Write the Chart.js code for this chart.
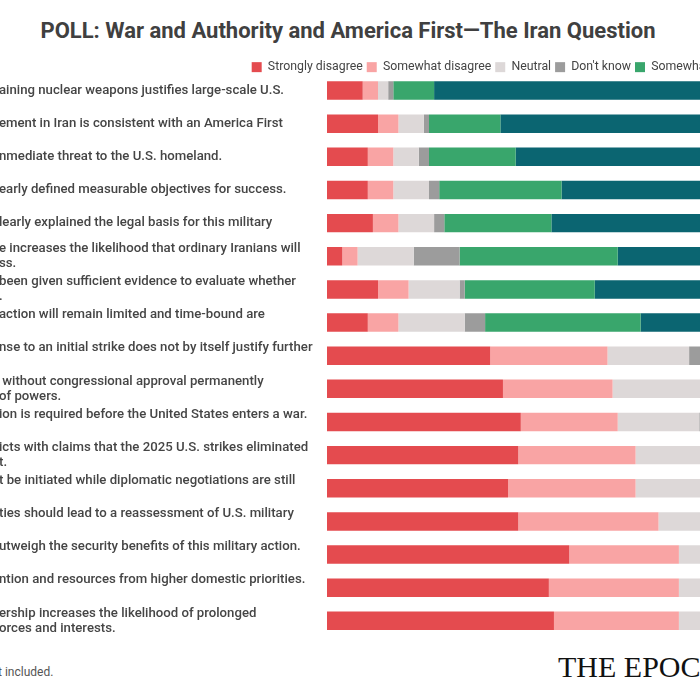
<!DOCTYPE html>
<html lang="en">
<head>
    <meta charset="UTF-8">
    <title>POLL: War and Authority and America First—The Iran Question</title>
    <style>
        html, body { margin: 0; padding: 0; background: #fff; overflow: hidden; }
        body { width: 700px; height: 700px; position: relative; font-family: Roboto, sans-serif; }
        h1 { position: absolute; top: 18px; left: 0; width: 696px; margin: 0; text-align: center;
             font: 700 22px/26px Roboto, sans-serif; color: #404040; white-space: nowrap; }
        #chart-wrap { position: absolute; left: -1px; top: 0; width: 842px; height: 645px; }
        .note { position: absolute; left: -2px; top: 665px; font: 400 12px/14px Roboto, sans-serif; color: #555; }
        .logo { position: absolute; left: 558px; top: 652px; font: 400 30px/30px "Liberation Serif", serif;
                color: #111; white-space: nowrap; }
    </style>
</head>
<body>
    <h1>POLL: War and Authority and America First—The Iran Question</h1>
    <div id="chart-wrap"><canvas id="poll-chart"></canvas></div>
    <div class="note">t included.</div>
    <div class="logo">THE EPOCH TIMES</div>

    <script src="https://cdn.jsdelivr.net/npm/chart.js"></script>
    <script>
        // statements (only the part that shows in the frame)
        const statements = [
            'aining nuclear weapons justifies large-scale U.S.',
            'ement in Iran is consistent with an America First',
            'nmediate threat to the U.S. homeland.',
            'early defined measurable objectives for success.',
            'learly explained the legal basis for this military',
            ['e increases the likelihood that ordinary Iranians will', 'ss.'],
            ['been given sufficient evidence to evaluate whether', '.'],
            ['action will remain limited and time-bound are', ''],
            ['nse to an initial strike does not by itself justify further', ''],
            [' without congressional approval permanently', 'of powers.'],
            ['ion is required before the United States enters a war.', ''],
            ['icts with claims that the 2025 U.S. strikes eliminated', 't.'],
            ['t be initiated while diplomatic negotiations are still', ''],
            ['ties should lead to a reassessment of U.S. military', ''],
            ['utweigh the security benefits of this military action.', ''],
            ['ntion and resources from higher domestic priorities.', ''],
            ['ership increases the likelihood of prolonged', 'orces and interests.']
        ];

        // percent of respondents
        const stronglyDisagree = [7, 10, 8, 8, 9, 3, 10, 8, 32, 34.5, 38, 37.5, 35.5, 37.5, 47.5, 43.5, 44.5];
        const somewhatDisagree = [3, 4, 5, 5, 5, 3, 6, 6, 23, 21.5, 19, 23, 25, 27.5, 21.5, 25.5, 24.5];
        const neutral          = [2, 5, 5, 7, 7, 11, 10, 13, 16, 18, 16, 15, 17, 14, 12, 13, 13];
        const dontKnow         = [1, 1, 2, 2, 2, 9, 1, 4, 3, 3, 2, 4, 3, 3, 3, 3, 3];
        const somewhatAgree    = [8, 14, 17, 24, 21, 31, 25.5, 30.5, 15, 14, 15, 12, 12, 11, 9, 9, 9];
        const stronglyAgree    = [79, 66, 63, 54, 56, 43, 47.5, 38.5, 11, 9, 10, 8.5, 7.5, 7, 7, 6, 6];

        const series = [
            { label: 'Strongly disagree', data: stronglyDisagree, color: '#e44b4f' },
            { label: 'Somewhat disagree', data: somewhatDisagree, color: '#f9a4a4' },
            { label: 'Neutral',           data: neutral,          color: '#ddd8d8' },
            { label: "Don't know",        data: dontKnow,         color: '#9c9c9c' },
            { label: 'Somewhat agree',    data: somewhatAgree,    color: '#39a66c' },
            { label: 'Strongly agree',    data: stronglyAgree,    color: '#0b6571' }
        ];

        // the legend runs on past the right end of the bars
        const legendShift = {
            id: 'legendShift',
            afterLayout(chart) {
                chart.legend.left += 9;
                chart.legend.right += 9;
            }
        };

        const config = {
            type: 'bar',
            data: {
                labels: statements,
                datasets: series.map(s => ({
                    label: s.label,
                    data: s.data,
                    backgroundColor: s.color,
                    borderWidth: 0,
                    categoryPercentage: 1,
                    barPercentage: 0.557
                }))
            },
            options: {
                indexAxis: 'y',
                animation: false,
                responsive: true,
                maintainAspectRatio: false,
                layout: { padding: { top: 57, right: 4, bottom: 5, left: 0 } },
                scales: {
                    x: { stacked: true, min: 0, max: 100, display: false },
                    y: {
                        stacked: true,
                        grid: { display: false },
                        border: { display: false },
                        ticks: {
                            autoSkip: false,
                            crossAlign: 'far',
                            padding: 0,
                            color: '#454545',
                            font: { family: 'Roboto', size: 13.2, weight: '500', lineHeight: 1.15 }
                        },
                        afterFit: function(scale) {
                            scale.width = 328;
                        }
                    }
                },
                plugins: {
                    legend: {
                        position: 'top',
                        align: 'end',
                        maxHeight: 17,
                        labels: {
                            boxWidth: 10,
                            boxHeight: 10,
                            padding: 4,
                            color: '#444',
                            font: { family: 'Roboto', size: 12.3 }
                        }
                    },
                    tooltip: { enabled: false }
                }
            },
            plugins: [legendShift]
        };

        const pollChart = new Chart(document.getElementById('poll-chart'), config);
    </script>
</body>
</html>
